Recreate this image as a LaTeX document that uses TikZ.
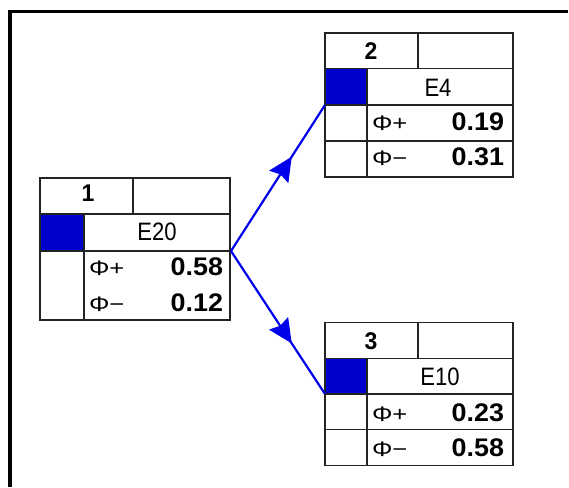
\documentclass[tikz,border=0pt]{standalone}
\usepackage{fontspec}
\setmainfont{Liberation Sans}
\usepackage{graphicx}
\usetikzlibrary{arrows.meta,decorations.markings}
\definecolor{cellblue}{RGB}{0,0,204}
\definecolor{linkblue}{RGB}{0,0,235}
\definecolor{gridc}{RGB}{35,35,35}
\newcommand\mkval[1]{\scalebox{1.12}[1.06]{\fontsize{24}{24}\selectfont\bfseries #1}}
\newcommand\mkhdr[1]{\scalebox{1}[1.05]{\fontsize{23}{23}\selectfont\bfseries #1}}
\newcommand\mklbl[1]{\scalebox{0.92}[1.05]{\fontsize{24}{24}\selectfont #1}}
\newcommand\mkphi[1]{\scalebox{1.22}[1]{\fontsize{21}{21}\selectfont #1}}
\begin{document}
\begin{tikzpicture}[x=1pt,y=-1pt,
  tbl/.style={draw=gridc, line width=1.4pt, inner sep=0pt, outer sep=0pt},
  grid/.style={draw=gridc, line width=1.4pt},
  txt/.style={inner sep=0pt, outer sep=0pt},
  link/.style={draw=linkblue, line width=2.2pt, postaction={decorate},
    decoration={markings, mark=at position 0.64 with {\fill[linkblue] (1pt,0pt) -- (-23pt,11.5pt) -- (-20pt,0pt) -- (-23pt,-11.5pt) -- cycle;}}}]
\useasboundingbox (0,0) rectangle (569,487);
% frame
\draw[line width=3.5pt] (10,487) -- (10,11.5) -- (568,11.5);

% ---- table 1 ----
\fill[cellblue] (40,214) rectangle (84,251);
\node[tbl, minimum width=190pt, minimum height=142pt, anchor=north west] (t1) at (40,178) {};
\draw[grid] (40,214) -- (230,214);
\draw[grid] (40,251) -- (230,251);
\draw[grid] (133,178) -- (133,214);
\draw[grid] (84,214) -- (84,320);
\node[txt] (h1) at (88,193) {\mkhdr{1}};
\node[txt] (e1) at (157,232) {\mklbl{E20}};
\node[txt, anchor=west] (p1a) at (89,268) {\mkphi{Φ+}};
\node[txt, anchor=east] (v1a) at (223,267) {\mkval{0.58}};
\node[txt, anchor=west] (p1b) at (89,304) {\mkphi{Φ−}};
\node[txt, anchor=east] (v1b) at (223,303) {\mkval{0.12}};

% ---- table 2 ----
\fill[cellblue] (325,68.5) rectangle (367,105);
\node[tbl, minimum width=188pt, minimum height=144pt, anchor=north west] (t2) at (325,33) {};
\draw[grid] (325,68.5) -- (513,68.5);
\draw[grid] (325,105) -- (513,105);
\draw[grid] (325,141) -- (513,141);
\draw[grid] (418,33) -- (418,68.5);
\draw[grid] (367,68.5) -- (367,177);
\node[txt] (h2) at (371,51.5) {\mkhdr{2}};
\node[txt] (e2) at (438,88) {\mklbl{E4}};
\node[txt, anchor=west] (p2a) at (372,123) {\mkphi{Φ+}};
\node[txt, anchor=east] (v2a) at (504,122) {\mkval{0.19}};
\node[txt, anchor=west] (p2b) at (372,158) {\mkphi{Φ−}};
\node[txt, anchor=east] (v2b) at (504,157) {\mkval{0.31}};

% ---- table 3 ----
\fill[cellblue] (325,358.3) rectangle (367,394);
\node[tbl, minimum width=188pt, minimum height=143pt, anchor=north west] (t3) at (325,322.7) {};
\draw[grid] (325,358.3) -- (513,358.3);
\draw[grid] (325,394) -- (513,394);
\draw[grid] (325,429.3) -- (513,429.3);
\draw[grid] (418,322.7) -- (418,358.3);
\draw[grid] (367,358.3) -- (367,465.7);
\node[txt] (h3) at (371,341) {\mkhdr{3}};
\node[txt] (e3) at (440,377) {\mklbl{E10}};
\node[txt, anchor=west] (p3a) at (372,414) {\mkphi{Φ+}};
\node[txt, anchor=east] (v3a) at (504,413) {\mkval{0.23}};
\node[txt, anchor=west] (p3b) at (372,449) {\mkphi{Φ−}};
\node[txt, anchor=east] (v3b) at (504,448) {\mkval{0.58}};

% ---- connectors ----
\coordinate (o1) at (231,251);
\coordinate (i2) at (325,105);
\coordinate (i3) at (325,394);
\draw[link] (o1) -- (i2);
\draw[link] (o1) -- (i3);
\end{tikzpicture}
\end{document}
